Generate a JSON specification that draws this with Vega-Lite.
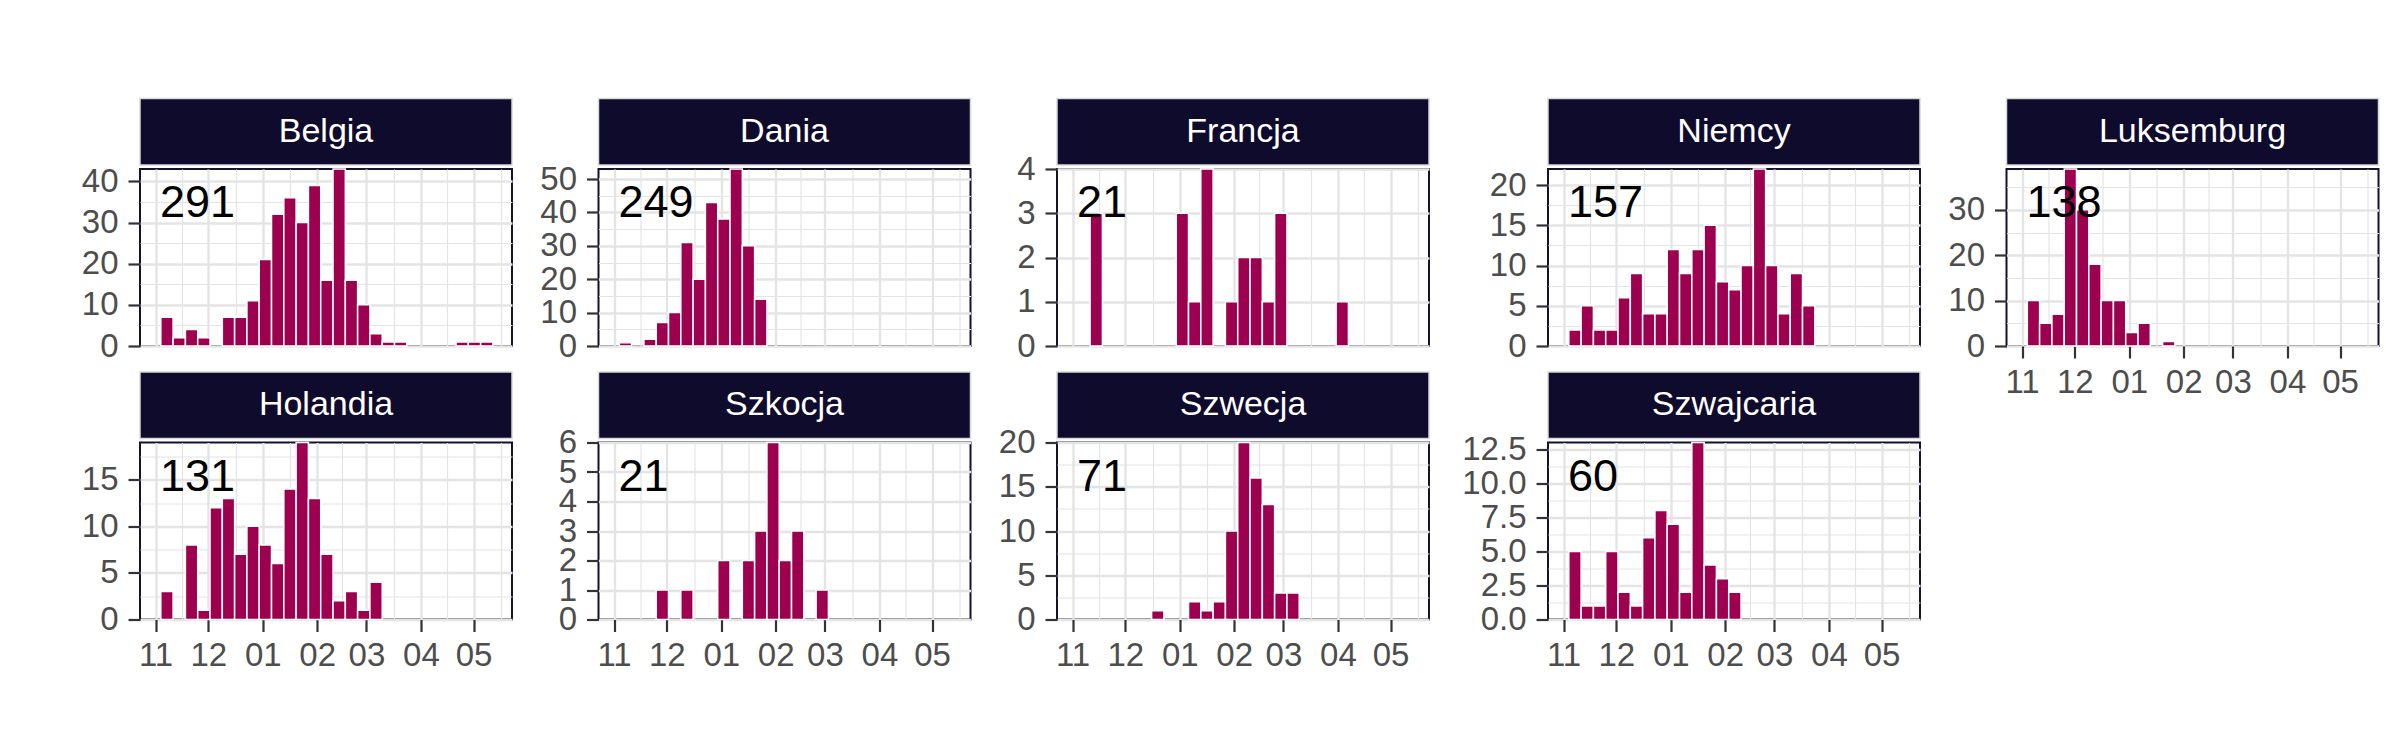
{
  "$schema": "https://vega.github.io/schema/vega-lite/v6.json",
  "background": "white",
  "padding": {"left": 80, "top": 97.5, "right": 5, "bottom": 5},
  "datasets": {
    "dane": [
      {"kraj": "Belgia", "od": "2017-11-04", "do": "2017-11-11", "n": 7},
      {"kraj": "Belgia", "od": "2017-11-11", "do": "2017-11-18", "n": 2},
      {"kraj": "Belgia", "od": "2017-11-18", "do": "2017-11-25", "n": 4},
      {"kraj": "Belgia", "od": "2017-11-25", "do": "2017-12-02", "n": 2},
      {"kraj": "Belgia", "od": "2017-12-09", "do": "2017-12-16", "n": 7},
      {"kraj": "Belgia", "od": "2017-12-16", "do": "2017-12-23", "n": 7},
      {"kraj": "Belgia", "od": "2017-12-23", "do": "2017-12-30", "n": 11},
      {"kraj": "Belgia", "od": "2017-12-30", "do": "2018-01-06", "n": 21},
      {"kraj": "Belgia", "od": "2018-01-06", "do": "2018-01-13", "n": 32},
      {"kraj": "Belgia", "od": "2018-01-13", "do": "2018-01-20", "n": 36},
      {"kraj": "Belgia", "od": "2018-01-20", "do": "2018-01-27", "n": 30},
      {"kraj": "Belgia", "od": "2018-01-27", "do": "2018-02-03", "n": 39},
      {"kraj": "Belgia", "od": "2018-02-03", "do": "2018-02-10", "n": 16},
      {"kraj": "Belgia", "od": "2018-02-10", "do": "2018-02-17", "n": 43},
      {"kraj": "Belgia", "od": "2018-02-17", "do": "2018-02-24", "n": 16},
      {"kraj": "Belgia", "od": "2018-02-24", "do": "2018-03-03", "n": 10},
      {"kraj": "Belgia", "od": "2018-03-03", "do": "2018-03-10", "n": 3},
      {"kraj": "Belgia", "od": "2018-03-10", "do": "2018-03-17", "n": 1},
      {"kraj": "Belgia", "od": "2018-03-17", "do": "2018-03-24", "n": 1},
      {"kraj": "Belgia", "od": "2018-04-21", "do": "2018-04-28", "n": 1},
      {"kraj": "Belgia", "od": "2018-04-28", "do": "2018-05-05", "n": 1},
      {"kraj": "Belgia", "od": "2018-05-05", "do": "2018-05-12", "n": 1},
      {"kraj": "Dania", "od": "2017-11-04", "do": "2017-11-11", "n": 1},
      {"kraj": "Dania", "od": "2017-11-18", "do": "2017-11-25", "n": 2},
      {"kraj": "Dania", "od": "2017-11-25", "do": "2017-12-02", "n": 7},
      {"kraj": "Dania", "od": "2017-12-02", "do": "2017-12-09", "n": 10},
      {"kraj": "Dania", "od": "2017-12-09", "do": "2017-12-16", "n": 31},
      {"kraj": "Dania", "od": "2017-12-16", "do": "2017-12-23", "n": 20},
      {"kraj": "Dania", "od": "2017-12-23", "do": "2017-12-30", "n": 43},
      {"kraj": "Dania", "od": "2017-12-30", "do": "2018-01-06", "n": 38},
      {"kraj": "Dania", "od": "2018-01-06", "do": "2018-01-13", "n": 53},
      {"kraj": "Dania", "od": "2018-01-13", "do": "2018-01-20", "n": 30},
      {"kraj": "Dania", "od": "2018-01-20", "do": "2018-01-27", "n": 14},
      {"kraj": "Francja", "od": "2017-11-11", "do": "2017-11-18", "n": 3},
      {"kraj": "Francja", "od": "2017-12-30", "do": "2018-01-06", "n": 3},
      {"kraj": "Francja", "od": "2018-01-06", "do": "2018-01-13", "n": 1},
      {"kraj": "Francja", "od": "2018-01-13", "do": "2018-01-20", "n": 4},
      {"kraj": "Francja", "od": "2018-01-27", "do": "2018-02-03", "n": 1},
      {"kraj": "Francja", "od": "2018-02-03", "do": "2018-02-10", "n": 2},
      {"kraj": "Francja", "od": "2018-02-10", "do": "2018-02-17", "n": 2},
      {"kraj": "Francja", "od": "2018-02-17", "do": "2018-02-24", "n": 1},
      {"kraj": "Francja", "od": "2018-02-24", "do": "2018-03-03", "n": 3},
      {"kraj": "Francja", "od": "2018-03-31", "do": "2018-04-07", "n": 1},
      {"kraj": "Niemcy", "od": "2017-11-04", "do": "2017-11-11", "n": 2},
      {"kraj": "Niemcy", "od": "2017-11-11", "do": "2017-11-18", "n": 5},
      {"kraj": "Niemcy", "od": "2017-11-18", "do": "2017-11-25", "n": 2},
      {"kraj": "Niemcy", "od": "2017-11-25", "do": "2017-12-02", "n": 2},
      {"kraj": "Niemcy", "od": "2017-12-02", "do": "2017-12-09", "n": 6},
      {"kraj": "Niemcy", "od": "2017-12-09", "do": "2017-12-16", "n": 9},
      {"kraj": "Niemcy", "od": "2017-12-16", "do": "2017-12-23", "n": 4},
      {"kraj": "Niemcy", "od": "2017-12-23", "do": "2017-12-30", "n": 4},
      {"kraj": "Niemcy", "od": "2017-12-30", "do": "2018-01-06", "n": 12},
      {"kraj": "Niemcy", "od": "2018-01-06", "do": "2018-01-13", "n": 9},
      {"kraj": "Niemcy", "od": "2018-01-13", "do": "2018-01-20", "n": 12},
      {"kraj": "Niemcy", "od": "2018-01-20", "do": "2018-01-27", "n": 15},
      {"kraj": "Niemcy", "od": "2018-01-27", "do": "2018-02-03", "n": 8},
      {"kraj": "Niemcy", "od": "2018-02-03", "do": "2018-02-10", "n": 7},
      {"kraj": "Niemcy", "od": "2018-02-10", "do": "2018-02-17", "n": 10},
      {"kraj": "Niemcy", "od": "2018-02-17", "do": "2018-02-24", "n": 22},
      {"kraj": "Niemcy", "od": "2018-02-24", "do": "2018-03-03", "n": 10},
      {"kraj": "Niemcy", "od": "2018-03-03", "do": "2018-03-10", "n": 4},
      {"kraj": "Niemcy", "od": "2018-03-10", "do": "2018-03-17", "n": 9},
      {"kraj": "Niemcy", "od": "2018-03-17", "do": "2018-03-24", "n": 5},
      {"kraj": "Luksemburg", "od": "2017-11-04", "do": "2017-11-11", "n": 10},
      {"kraj": "Luksemburg", "od": "2017-11-11", "do": "2017-11-18", "n": 5},
      {"kraj": "Luksemburg", "od": "2017-11-18", "do": "2017-11-25", "n": 7},
      {"kraj": "Luksemburg", "od": "2017-11-25", "do": "2017-12-02", "n": 39},
      {"kraj": "Luksemburg", "od": "2017-12-02", "do": "2017-12-09", "n": 30},
      {"kraj": "Luksemburg", "od": "2017-12-09", "do": "2017-12-16", "n": 18},
      {"kraj": "Luksemburg", "od": "2017-12-16", "do": "2017-12-23", "n": 10},
      {"kraj": "Luksemburg", "od": "2017-12-23", "do": "2017-12-30", "n": 10},
      {"kraj": "Luksemburg", "od": "2017-12-30", "do": "2018-01-06", "n": 3},
      {"kraj": "Luksemburg", "od": "2018-01-06", "do": "2018-01-13", "n": 5},
      {"kraj": "Luksemburg", "od": "2018-01-20", "do": "2018-01-27", "n": 1},
      {"kraj": "Holandia", "od": "2017-11-04", "do": "2017-11-11", "n": 3},
      {"kraj": "Holandia", "od": "2017-11-18", "do": "2017-11-25", "n": 8},
      {"kraj": "Holandia", "od": "2017-11-25", "do": "2017-12-02", "n": 1},
      {"kraj": "Holandia", "od": "2017-12-02", "do": "2017-12-09", "n": 12},
      {"kraj": "Holandia", "od": "2017-12-09", "do": "2017-12-16", "n": 13},
      {"kraj": "Holandia", "od": "2017-12-16", "do": "2017-12-23", "n": 7},
      {"kraj": "Holandia", "od": "2017-12-23", "do": "2017-12-30", "n": 10},
      {"kraj": "Holandia", "od": "2017-12-30", "do": "2018-01-06", "n": 8},
      {"kraj": "Holandia", "od": "2018-01-06", "do": "2018-01-13", "n": 6},
      {"kraj": "Holandia", "od": "2018-01-13", "do": "2018-01-20", "n": 14},
      {"kraj": "Holandia", "od": "2018-01-20", "do": "2018-01-27", "n": 19},
      {"kraj": "Holandia", "od": "2018-01-27", "do": "2018-02-03", "n": 13},
      {"kraj": "Holandia", "od": "2018-02-03", "do": "2018-02-10", "n": 7},
      {"kraj": "Holandia", "od": "2018-02-10", "do": "2018-02-17", "n": 2},
      {"kraj": "Holandia", "od": "2018-02-17", "do": "2018-02-24", "n": 3},
      {"kraj": "Holandia", "od": "2018-02-24", "do": "2018-03-03", "n": 1},
      {"kraj": "Holandia", "od": "2018-03-03", "do": "2018-03-10", "n": 4},
      {"kraj": "Szkocja", "od": "2017-11-25", "do": "2017-12-02", "n": 1},
      {"kraj": "Szkocja", "od": "2017-12-09", "do": "2017-12-16", "n": 1},
      {"kraj": "Szkocja", "od": "2017-12-30", "do": "2018-01-06", "n": 2},
      {"kraj": "Szkocja", "od": "2018-01-13", "do": "2018-01-20", "n": 2},
      {"kraj": "Szkocja", "od": "2018-01-20", "do": "2018-01-27", "n": 3},
      {"kraj": "Szkocja", "od": "2018-01-27", "do": "2018-02-03", "n": 6},
      {"kraj": "Szkocja", "od": "2018-02-03", "do": "2018-02-10", "n": 2},
      {"kraj": "Szkocja", "od": "2018-02-10", "do": "2018-02-17", "n": 3},
      {"kraj": "Szkocja", "od": "2018-02-24", "do": "2018-03-03", "n": 1},
      {"kraj": "Szwecja", "od": "2017-12-16", "do": "2017-12-23", "n": 1},
      {"kraj": "Szwecja", "od": "2018-01-06", "do": "2018-01-13", "n": 2},
      {"kraj": "Szwecja", "od": "2018-01-13", "do": "2018-01-20", "n": 1},
      {"kraj": "Szwecja", "od": "2018-01-20", "do": "2018-01-27", "n": 2},
      {"kraj": "Szwecja", "od": "2018-01-27", "do": "2018-02-03", "n": 10},
      {"kraj": "Szwecja", "od": "2018-02-03", "do": "2018-02-10", "n": 20},
      {"kraj": "Szwecja", "od": "2018-02-10", "do": "2018-02-17", "n": 16},
      {"kraj": "Szwecja", "od": "2018-02-17", "do": "2018-02-24", "n": 13},
      {"kraj": "Szwecja", "od": "2018-02-24", "do": "2018-03-03", "n": 3},
      {"kraj": "Szwecja", "od": "2018-03-03", "do": "2018-03-10", "n": 3},
      {"kraj": "Szwajcaria", "od": "2017-11-04", "do": "2017-11-11", "n": 5},
      {"kraj": "Szwajcaria", "od": "2017-11-11", "do": "2017-11-18", "n": 1},
      {"kraj": "Szwajcaria", "od": "2017-11-18", "do": "2017-11-25", "n": 1},
      {"kraj": "Szwajcaria", "od": "2017-11-25", "do": "2017-12-02", "n": 5},
      {"kraj": "Szwajcaria", "od": "2017-12-02", "do": "2017-12-09", "n": 2},
      {"kraj": "Szwajcaria", "od": "2017-12-09", "do": "2017-12-16", "n": 1},
      {"kraj": "Szwajcaria", "od": "2017-12-16", "do": "2017-12-23", "n": 6},
      {"kraj": "Szwajcaria", "od": "2017-12-23", "do": "2017-12-30", "n": 8},
      {"kraj": "Szwajcaria", "od": "2017-12-30", "do": "2018-01-06", "n": 7},
      {"kraj": "Szwajcaria", "od": "2018-01-06", "do": "2018-01-13", "n": 2},
      {"kraj": "Szwajcaria", "od": "2018-01-13", "do": "2018-01-20", "n": 13},
      {"kraj": "Szwajcaria", "od": "2018-01-20", "do": "2018-01-27", "n": 4},
      {"kraj": "Szwajcaria", "od": "2018-01-27", "do": "2018-02-03", "n": 3},
      {"kraj": "Szwajcaria", "od": "2018-02-03", "do": "2018-02-10", "n": 2}
    ]
  },
  "hconcat": [
    {
      "columns": 3,
      "align": "each",
      "bounds": "flush",
      "spacing": {"row": 3.5, "column": 86.5},
      "concat": [
        {"width": 372, "height": 66.5, "view": {"fill": "#0f0b2c", "stroke": "#d9d9d9", "strokeWidth": 1.5}, "data": {"values": [{"kraj": "Belgia"}]}, "mark": {"type": "text", "color": "white", "fontSize": 34}, "encoding": {"text": {"field": "kraj", "type": "nominal"}}},
        {"width": 372, "height": 66.5, "view": {"fill": "#0f0b2c", "stroke": "#d9d9d9", "strokeWidth": 1.5}, "data": {"values": [{"kraj": "Dania"}]}, "mark": {"type": "text", "color": "white", "fontSize": 34}, "encoding": {"text": {"field": "kraj", "type": "nominal"}}},
        {"width": 372, "height": 66.5, "view": {"fill": "#0f0b2c", "stroke": "#d9d9d9", "strokeWidth": 1.5}, "data": {"values": [{"kraj": "Francja"}]}, "mark": {"type": "text", "color": "white", "fontSize": 34}, "encoding": {"text": {"field": "kraj", "type": "nominal"}}},
        {"width": 372, "height": 177, "view": {"stroke": "#15112e", "strokeWidth": 2}, "data": {"name": "dane"}, "transform": [{"filter": "datum.kraj === 'Belgia'"}],
          "layer": [
            {"mark": {"type": "bar", "orient": "vertical", "fill": "#9e0050", "stroke": "white", "strokeWidth": 1.5},
              "encoding": {
                "x": {"field": "od", "type": "temporal", "title": null, "scale": {"type": "utc", "domain": [1508976000000, 1526774400000]},
                  "axis": {"values": [1509494400000,1510790400000,1512086400000,1513425600000,1514764800000,1516104000000,1517443200000,1518652800000,1519862400000,1521201600000,1522540800000,1523836800000,1525132800000,1526472000000], "tickCount": 100, "labels": false, "ticks": false, "labelOverlap": false, "gridWidth": {"condition": {"test": "utcdate(datum.value) === 1", "value": 2.4}, "value": 1.2}}},
                "x2": {"field": "do"},
                "y": {"field": "n", "type": "quantitative", "title": null, "stack": null, "scale": {"nice": false, "zero": true},
                  "axis": {"values": [0,5,10,15,20,25,30,35,40], "tickCount": 100, "format": "d", "labelOverlap": false, "labelExpr": "datum.value % 10 === 0 ? datum.label : ''", "gridWidth": {"condition": {"test": "datum.value % 10 === 0", "value": 2.4}, "value": 1.2}, "tickOpacity": {"condition": {"test": "datum.value % 10 === 0", "value": 1}, "value": 0}}}
              }},
            {"mark": {"type": "text", "align": "left", "baseline": "alphabetic", "dy": 48, "fontSize": 45, "color": "black"},
              "encoding": {"x": {"datum": 1509710400000, "type": "temporal", "title": null}, "y": {"aggregate": "max", "field": "n", "type": "quantitative", "title": null}, "text": {"aggregate": "sum", "field": "n", "type": "quantitative"}}}
          ]},
        {"width": 372, "height": 177, "view": {"stroke": "#15112e", "strokeWidth": 2}, "data": {"name": "dane"}, "transform": [{"filter": "datum.kraj === 'Dania'"}],
          "layer": [
            {"mark": {"type": "bar", "orient": "vertical", "fill": "#9e0050", "stroke": "white", "strokeWidth": 1.5},
              "encoding": {
                "x": {"field": "od", "type": "temporal", "title": null, "scale": {"type": "utc", "domain": [1508976000000, 1526774400000]},
                  "axis": {"values": [1509494400000,1510790400000,1512086400000,1513425600000,1514764800000,1516104000000,1517443200000,1518652800000,1519862400000,1521201600000,1522540800000,1523836800000,1525132800000,1526472000000], "tickCount": 100, "labels": false, "ticks": false, "labelOverlap": false, "gridWidth": {"condition": {"test": "utcdate(datum.value) === 1", "value": 2.4}, "value": 1.2}}},
                "x2": {"field": "do"},
                "y": {"field": "n", "type": "quantitative", "title": null, "stack": null, "scale": {"nice": false, "zero": true},
                  "axis": {"values": [0,5,10,15,20,25,30,35,40,45,50], "tickCount": 100, "format": "d", "labelOverlap": false, "labelExpr": "datum.value % 10 === 0 ? datum.label : ''", "gridWidth": {"condition": {"test": "datum.value % 10 === 0", "value": 2.4}, "value": 1.2}, "tickOpacity": {"condition": {"test": "datum.value % 10 === 0", "value": 1}, "value": 0}}}
              }},
            {"mark": {"type": "text", "align": "left", "baseline": "alphabetic", "dy": 48, "fontSize": 45, "color": "black"},
              "encoding": {"x": {"datum": 1509710400000, "type": "temporal", "title": null}, "y": {"aggregate": "max", "field": "n", "type": "quantitative", "title": null}, "text": {"aggregate": "sum", "field": "n", "type": "quantitative"}}}
          ]},
        {"width": 372, "height": 177, "view": {"stroke": "#15112e", "strokeWidth": 2}, "data": {"name": "dane"}, "transform": [{"filter": "datum.kraj === 'Francja'"}],
          "layer": [
            {"mark": {"type": "bar", "orient": "vertical", "fill": "#9e0050", "stroke": "white", "strokeWidth": 1.5},
              "encoding": {
                "x": {"field": "od", "type": "temporal", "title": null, "scale": {"type": "utc", "domain": [1508976000000, 1526774400000]},
                  "axis": {"values": [1509494400000,1510790400000,1512086400000,1513425600000,1514764800000,1516104000000,1517443200000,1518652800000,1519862400000,1521201600000,1522540800000,1523836800000,1525132800000,1526472000000], "tickCount": 100, "labels": false, "ticks": false, "labelOverlap": false, "gridWidth": {"condition": {"test": "utcdate(datum.value) === 1", "value": 2.4}, "value": 1.2}}},
                "x2": {"field": "do"},
                "y": {"field": "n", "type": "quantitative", "title": null, "stack": null, "scale": {"nice": false, "zero": true},
                  "axis": {"values": [0,0.5,1,1.5,2,2.5,3,3.5,4], "tickCount": 100, "format": "d", "labelOverlap": false, "labelExpr": "datum.value % 1 === 0 ? datum.label : ''", "gridWidth": {"condition": {"test": "datum.value % 1 === 0", "value": 2.4}, "value": 1.2}, "tickOpacity": {"condition": {"test": "datum.value % 1 === 0", "value": 1}, "value": 0}}}
              }},
            {"mark": {"type": "text", "align": "left", "baseline": "alphabetic", "dy": 48, "fontSize": 45, "color": "black"},
              "encoding": {"x": {"datum": 1509710400000, "type": "temporal", "title": null}, "y": {"aggregate": "max", "field": "n", "type": "quantitative", "title": null}, "text": {"aggregate": "sum", "field": "n", "type": "quantitative"}}}
          ]},
        {"width": 372, "height": 19, "view": {"stroke": null}, "data": {"values": []}, "mark": "point"},
        {"width": 372, "height": 19, "view": {"stroke": null}, "data": {"values": []}, "mark": "point"},
        {"width": 372, "height": 19, "view": {"stroke": null}, "data": {"values": []}, "mark": "point"},
        {"width": 372, "height": 66.5, "view": {"fill": "#0f0b2c", "stroke": "#d9d9d9", "strokeWidth": 1.5}, "data": {"values": [{"kraj": "Holandia"}]}, "mark": {"type": "text", "color": "white", "fontSize": 34}, "encoding": {"text": {"field": "kraj", "type": "nominal"}}},
        {"width": 372, "height": 66.5, "view": {"fill": "#0f0b2c", "stroke": "#d9d9d9", "strokeWidth": 1.5}, "data": {"values": [{"kraj": "Szkocja"}]}, "mark": {"type": "text", "color": "white", "fontSize": 34}, "encoding": {"text": {"field": "kraj", "type": "nominal"}}},
        {"width": 372, "height": 66.5, "view": {"fill": "#0f0b2c", "stroke": "#d9d9d9", "strokeWidth": 1.5}, "data": {"values": [{"kraj": "Szwecja"}]}, "mark": {"type": "text", "color": "white", "fontSize": 34}, "encoding": {"text": {"field": "kraj", "type": "nominal"}}},
        {"width": 372, "height": 177, "view": {"stroke": "#15112e", "strokeWidth": 2}, "data": {"name": "dane"}, "transform": [{"filter": "datum.kraj === 'Holandia'"}],
          "layer": [
            {"mark": {"type": "bar", "orient": "vertical", "fill": "#9e0050", "stroke": "white", "strokeWidth": 1.5},
              "encoding": {
                "x": {"field": "od", "type": "temporal", "title": null, "scale": {"type": "utc", "domain": [1508976000000, 1526774400000]},
                  "axis": {"values": [1509494400000,1510790400000,1512086400000,1513425600000,1514764800000,1516104000000,1517443200000,1518652800000,1519862400000,1521201600000,1522540800000,1523836800000,1525132800000,1526472000000], "tickCount": 100, "labelOverlap": false, "labelExpr": "utcdate(datum.value) === 1 ? utcFormat(datum.value, '%m') : ''", "gridWidth": {"condition": {"test": "utcdate(datum.value) === 1", "value": 2.4}, "value": 1.2}, "tickOpacity": {"condition": {"test": "utcdate(datum.value) === 1", "value": 1}, "value": 0}}},
                "x2": {"field": "do"},
                "y": {"field": "n", "type": "quantitative", "title": null, "stack": null, "scale": {"nice": false, "zero": true},
                  "axis": {"values": [0,2.5,5,7.5,10,12.5,15,17.5], "tickCount": 100, "format": "d", "labelOverlap": false, "labelExpr": "datum.value % 5 === 0 ? datum.label : ''", "gridWidth": {"condition": {"test": "datum.value % 5 === 0", "value": 2.4}, "value": 1.2}, "tickOpacity": {"condition": {"test": "datum.value % 5 === 0", "value": 1}, "value": 0}}}
              }},
            {"mark": {"type": "text", "align": "left", "baseline": "alphabetic", "dy": 48, "fontSize": 45, "color": "black"},
              "encoding": {"x": {"datum": 1509710400000, "type": "temporal", "title": null}, "y": {"aggregate": "max", "field": "n", "type": "quantitative", "title": null}, "text": {"aggregate": "sum", "field": "n", "type": "quantitative"}}}
          ]},
        {"width": 372, "height": 177, "view": {"stroke": "#15112e", "strokeWidth": 2}, "data": {"name": "dane"}, "transform": [{"filter": "datum.kraj === 'Szkocja'"}],
          "layer": [
            {"mark": {"type": "bar", "orient": "vertical", "fill": "#9e0050", "stroke": "white", "strokeWidth": 1.5},
              "encoding": {
                "x": {"field": "od", "type": "temporal", "title": null, "scale": {"type": "utc", "domain": [1508976000000, 1526774400000]},
                  "axis": {"values": [1509494400000,1510790400000,1512086400000,1513425600000,1514764800000,1516104000000,1517443200000,1518652800000,1519862400000,1521201600000,1522540800000,1523836800000,1525132800000,1526472000000], "tickCount": 100, "labelOverlap": false, "labelExpr": "utcdate(datum.value) === 1 ? utcFormat(datum.value, '%m') : ''", "gridWidth": {"condition": {"test": "utcdate(datum.value) === 1", "value": 2.4}, "value": 1.2}, "tickOpacity": {"condition": {"test": "utcdate(datum.value) === 1", "value": 1}, "value": 0}}},
                "x2": {"field": "do"},
                "y": {"field": "n", "type": "quantitative", "title": null, "stack": null, "scale": {"nice": false, "zero": true},
                  "axis": {"values": [0,0.5,1,1.5,2,2.5,3,3.5,4,4.5,5,5.5,6], "tickCount": 100, "format": "d", "labelOverlap": false, "labelExpr": "datum.value % 1 === 0 ? datum.label : ''", "gridWidth": {"condition": {"test": "datum.value % 1 === 0", "value": 2.4}, "value": 1.2}, "tickOpacity": {"condition": {"test": "datum.value % 1 === 0", "value": 1}, "value": 0}}}
              }},
            {"mark": {"type": "text", "align": "left", "baseline": "alphabetic", "dy": 48, "fontSize": 45, "color": "black"},
              "encoding": {"x": {"datum": 1509710400000, "type": "temporal", "title": null}, "y": {"aggregate": "max", "field": "n", "type": "quantitative", "title": null}, "text": {"aggregate": "sum", "field": "n", "type": "quantitative"}}}
          ]},
        {"width": 372, "height": 177, "view": {"stroke": "#15112e", "strokeWidth": 2}, "data": {"name": "dane"}, "transform": [{"filter": "datum.kraj === 'Szwecja'"}],
          "layer": [
            {"mark": {"type": "bar", "orient": "vertical", "fill": "#9e0050", "stroke": "white", "strokeWidth": 1.5},
              "encoding": {
                "x": {"field": "od", "type": "temporal", "title": null, "scale": {"type": "utc", "domain": [1508976000000, 1526774400000]},
                  "axis": {"values": [1509494400000,1510790400000,1512086400000,1513425600000,1514764800000,1516104000000,1517443200000,1518652800000,1519862400000,1521201600000,1522540800000,1523836800000,1525132800000,1526472000000], "tickCount": 100, "labelOverlap": false, "labelExpr": "utcdate(datum.value) === 1 ? utcFormat(datum.value, '%m') : ''", "gridWidth": {"condition": {"test": "utcdate(datum.value) === 1", "value": 2.4}, "value": 1.2}, "tickOpacity": {"condition": {"test": "utcdate(datum.value) === 1", "value": 1}, "value": 0}}},
                "x2": {"field": "do"},
                "y": {"field": "n", "type": "quantitative", "title": null, "stack": null, "scale": {"nice": false, "zero": true},
                  "axis": {"values": [0,2.5,5,7.5,10,12.5,15,17.5,20], "tickCount": 100, "format": "d", "labelOverlap": false, "labelExpr": "datum.value % 5 === 0 ? datum.label : ''", "gridWidth": {"condition": {"test": "datum.value % 5 === 0", "value": 2.4}, "value": 1.2}, "tickOpacity": {"condition": {"test": "datum.value % 5 === 0", "value": 1}, "value": 0}}}
              }},
            {"mark": {"type": "text", "align": "left", "baseline": "alphabetic", "dy": 48, "fontSize": 45, "color": "black"},
              "encoding": {"x": {"datum": 1509710400000, "type": "temporal", "title": null}, "y": {"aggregate": "max", "field": "n", "type": "quantitative", "title": null}, "text": {"aggregate": "sum", "field": "n", "type": "quantitative"}}}
          ]}
      ]
    },
    {
      "columns": 2,
      "align": "each",
      "bounds": "flush",
      "spacing": {"row": 3.5, "column": 86.5},
      "concat": [
        {"width": 372, "height": 66.5, "view": {"fill": "#0f0b2c", "stroke": "#d9d9d9", "strokeWidth": 1.5}, "data": {"values": [{"kraj": "Niemcy"}]}, "mark": {"type": "text", "color": "white", "fontSize": 34}, "encoding": {"text": {"field": "kraj", "type": "nominal"}}},
        {"width": 372, "height": 66.5, "view": {"fill": "#0f0b2c", "stroke": "#d9d9d9", "strokeWidth": 1.5}, "data": {"values": [{"kraj": "Luksemburg"}]}, "mark": {"type": "text", "color": "white", "fontSize": 34}, "encoding": {"text": {"field": "kraj", "type": "nominal"}}},
        {"width": 372, "height": 177, "view": {"stroke": "#15112e", "strokeWidth": 2}, "data": {"name": "dane"}, "transform": [{"filter": "datum.kraj === 'Niemcy'"}],
          "layer": [
            {"mark": {"type": "bar", "orient": "vertical", "fill": "#9e0050", "stroke": "white", "strokeWidth": 1.5},
              "encoding": {
                "x": {"field": "od", "type": "temporal", "title": null, "scale": {"type": "utc", "domain": [1508976000000, 1526774400000]},
                  "axis": {"values": [1509494400000,1510790400000,1512086400000,1513425600000,1514764800000,1516104000000,1517443200000,1518652800000,1519862400000,1521201600000,1522540800000,1523836800000,1525132800000,1526472000000], "tickCount": 100, "labels": false, "ticks": false, "labelOverlap": false, "gridWidth": {"condition": {"test": "utcdate(datum.value) === 1", "value": 2.4}, "value": 1.2}}},
                "x2": {"field": "do"},
                "y": {"field": "n", "type": "quantitative", "title": null, "stack": null, "scale": {"nice": false, "zero": true},
                  "axis": {"values": [0,2.5,5,7.5,10,12.5,15,17.5,20], "tickCount": 100, "format": "d", "labelOverlap": false, "labelExpr": "datum.value % 5 === 0 ? datum.label : ''", "gridWidth": {"condition": {"test": "datum.value % 5 === 0", "value": 2.4}, "value": 1.2}, "tickOpacity": {"condition": {"test": "datum.value % 5 === 0", "value": 1}, "value": 0}}}
              }},
            {"mark": {"type": "text", "align": "left", "baseline": "alphabetic", "dy": 48, "fontSize": 45, "color": "black"},
              "encoding": {"x": {"datum": 1509710400000, "type": "temporal", "title": null}, "y": {"aggregate": "max", "field": "n", "type": "quantitative", "title": null}, "text": {"aggregate": "sum", "field": "n", "type": "quantitative"}}}
          ]},
        {"width": 372, "height": 177, "view": {"stroke": "#15112e", "strokeWidth": 2}, "data": {"name": "dane"}, "transform": [{"filter": "datum.kraj === 'Luksemburg'"}],
          "layer": [
            {"mark": {"type": "bar", "orient": "vertical", "fill": "#9e0050", "stroke": "white", "strokeWidth": 1.5},
              "encoding": {
                "x": {"field": "od", "type": "temporal", "title": null, "scale": {"type": "utc", "domain": [1508976000000, 1526774400000]},
                  "axis": {"values": [1509494400000,1510790400000,1512086400000,1513425600000,1514764800000,1516104000000,1517443200000,1518652800000,1519862400000,1521201600000,1522540800000,1523836800000,1525132800000,1526472000000], "tickCount": 100, "labelOverlap": false, "labelExpr": "utcdate(datum.value) === 1 ? utcFormat(datum.value, '%m') : ''", "gridWidth": {"condition": {"test": "utcdate(datum.value) === 1", "value": 2.4}, "value": 1.2}, "tickOpacity": {"condition": {"test": "utcdate(datum.value) === 1", "value": 1}, "value": 0}}},
                "x2": {"field": "do"},
                "y": {"field": "n", "type": "quantitative", "title": null, "stack": null, "scale": {"nice": false, "zero": true},
                  "axis": {"values": [0,5,10,15,20,25,30,35], "tickCount": 100, "format": "d", "labelOverlap": false, "labelExpr": "datum.value % 10 === 0 ? datum.label : ''", "gridWidth": {"condition": {"test": "datum.value % 10 === 0", "value": 2.4}, "value": 1.2}, "tickOpacity": {"condition": {"test": "datum.value % 10 === 0", "value": 1}, "value": 0}}}
              }},
            {"mark": {"type": "text", "align": "left", "baseline": "alphabetic", "dy": 48, "fontSize": 45, "color": "black"},
              "encoding": {"x": {"datum": 1509710400000, "type": "temporal", "title": null}, "y": {"aggregate": "max", "field": "n", "type": "quantitative", "title": null}, "text": {"aggregate": "sum", "field": "n", "type": "quantitative"}}}
          ]},
        {"width": 372, "height": 19, "view": {"stroke": null}, "data": {"values": []}, "mark": "point"},
        {"width": 372, "height": 19, "view": {"stroke": null}, "data": {"values": []}, "mark": "point"},
        {"width": 372, "height": 66.5, "view": {"fill": "#0f0b2c", "stroke": "#d9d9d9", "strokeWidth": 1.5}, "data": {"values": [{"kraj": "Szwajcaria"}]}, "mark": {"type": "text", "color": "white", "fontSize": 34}, "encoding": {"text": {"field": "kraj", "type": "nominal"}}},
        {"width": 372, "height": 66.5, "view": {"stroke": null}, "data": {"values": []}, "mark": "point"},
        {"width": 372, "height": 177, "view": {"stroke": "#15112e", "strokeWidth": 2}, "data": {"name": "dane"}, "transform": [{"filter": "datum.kraj === 'Szwajcaria'"}],
          "layer": [
            {"mark": {"type": "bar", "orient": "vertical", "fill": "#9e0050", "stroke": "white", "strokeWidth": 1.5},
              "encoding": {
                "x": {"field": "od", "type": "temporal", "title": null, "scale": {"type": "utc", "domain": [1508976000000, 1526774400000]},
                  "axis": {"values": [1509494400000,1510790400000,1512086400000,1513425600000,1514764800000,1516104000000,1517443200000,1518652800000,1519862400000,1521201600000,1522540800000,1523836800000,1525132800000,1526472000000], "tickCount": 100, "labelOverlap": false, "labelExpr": "utcdate(datum.value) === 1 ? utcFormat(datum.value, '%m') : ''", "gridWidth": {"condition": {"test": "utcdate(datum.value) === 1", "value": 2.4}, "value": 1.2}, "tickOpacity": {"condition": {"test": "utcdate(datum.value) === 1", "value": 1}, "value": 0}}},
                "x2": {"field": "do"},
                "y": {"field": "n", "type": "quantitative", "title": null, "stack": null, "scale": {"nice": false, "zero": true},
                  "axis": {"values": [0,1.25,2.5,3.75,5,6.25,7.5,8.75,10,11.25,12.5], "tickCount": 100, "format": ".1f", "labelOverlap": false, "labelExpr": "datum.value % 2.5 === 0 ? datum.label : ''", "gridWidth": {"condition": {"test": "datum.value % 2.5 === 0", "value": 2.4}, "value": 1.2}, "tickOpacity": {"condition": {"test": "datum.value % 2.5 === 0", "value": 1}, "value": 0}}}
              }},
            {"mark": {"type": "text", "align": "left", "baseline": "alphabetic", "dy": 48, "fontSize": 45, "color": "black"},
              "encoding": {"x": {"datum": 1509710400000, "type": "temporal", "title": null}, "y": {"aggregate": "max", "field": "n", "type": "quantitative", "title": null}, "text": {"aggregate": "sum", "field": "n", "type": "quantitative"}}}
          ]}
      ]
    }
  ],
  "spacing": 30,
  "bounds": "full",
  "config": {
    "font": "Liberation Sans",
    "view": {"stroke": null},
    "axis": {
      "domain": false,
      "labelFont": "Liberation Sans",
      "labelFontSize": 33,
      "labelColor": "#4d4d4d",
      "tickColor": "#333333",
      "tickWidth": 2.2,
      "tickSize": 12,
      "labelPadding": 10,
      "labelOverlap": false,
      "labelFlush": false,
      "gridColor": "#e4e4e4"
    },
    "axisX": {"labelPadding": 8}
  }
}
